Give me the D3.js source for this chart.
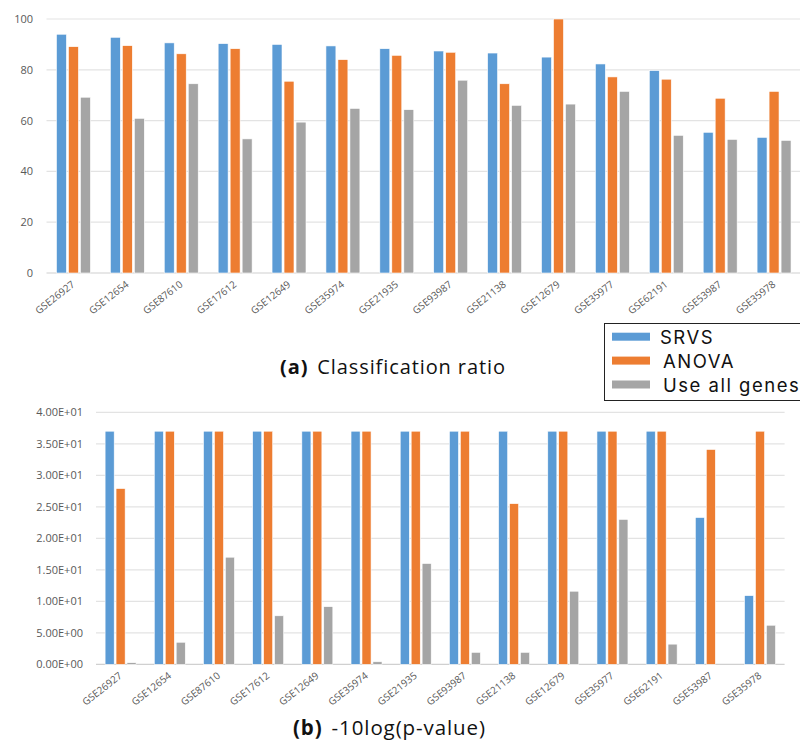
<!DOCTYPE html>
<html>
<head>
<meta charset="utf-8">
<script src="https://cdn.jsdelivr.net/npm/d3@7"></script>
<style>
  html, body { margin: 0; padding: 0; background: #fff; }
  svg { display: block; }
</style>
</head>
<body>
<svg id="chart" width="800" height="742"></svg>
<script>
// Datasets (GEO series) shown along both panels
const datasets = ["GSE26927", "GSE12654", "GSE87610", "GSE17612", "GSE12649", "GSE35974", "GSE21935",
                  "GSE93987", "GSE21138", "GSE12679", "GSE35977", "GSE62191", "GSE53987", "GSE35978"];
const methods = ["SRVS", "ANOVA", "Use all genes"];

// (a) Classification ratio (%)
const ratioSRVS  = [94.0, 92.8, 90.6, 90.3, 90.0, 89.4, 88.3, 87.4, 86.6, 85.0, 82.3, 79.7, 55.4, 53.4];
const ratioANOVA = [89.1, 89.5, 86.3, 88.3, 75.5, 84.0, 85.7, 86.9, 74.5, 100.0, 77.2, 76.3, 68.8, 71.5];
const ratioAll   = [69.2, 60.9, 74.5, 52.8, 59.4, 64.8, 64.3, 75.9, 66.0, 66.5, 71.5, 54.2, 52.6, 52.2];
const ratioTicks = [0, 20, 40, 60, 80, 100];

// (b) -10log(p-value)
const pvalSRVS  = [37, 37, 37, 37, 37, 37, 37, 37, 37, 37, 37, 37, 23.3, 10.9];
const pvalANOVA = [27.9, 37, 37, 37, 37, 37, 37, 37, 25.5, 37, 37, 37, 34.1, 37];
const pvalAll   = [0.25, 3.5, 17.0, 7.7, 9.15, 0.4, 16.0, 1.9, 1.9, 11.6, 23.0, 3.2, 0, 6.2];
const pvalTicks = [0, 5, 10, 15, 20, 25, 30, 35, 40];

const colors = ["#5b9bd5", "#ed7d31", "#a5a5a5"];
const font = "'Open Sans', 'Noto Sans', sans-serif";
const legendFont = "Inter, 'Open Sans', sans-serif";

const svg = d3.select("#chart");

// Excel-style scientific notation, e.g. 3.50E+01
function sci(v) {
  if (v === 0) return "0.00E+00";
  const e = Math.floor(Math.log10(Math.abs(v)));
  const m = v / Math.pow(10, e);
  const sign = e < 0 ? "-" : "+";
  return m.toFixed(2) + "E" + sign + String(Math.abs(e)).padStart(2, "0");
}

function drawPanel(opts) {
  const { series, ticks, yMax, x0, x1, yTop, yBottom, tickFmt, labelRight } = opts;
  const g = svg.append("g");

  const x = d3.scaleBand().domain(datasets).range([x0, x1])
    .paddingInner(0.37).paddingOuter(0.185);
  const xs = d3.scaleBand().domain(methods).range([0, x.bandwidth()]).paddingInner(0.17);
  const y = d3.scaleLinear().domain([0, yMax]).range([yBottom, yTop]);

  // horizontal gridlines
  g.append("g").selectAll("line").data(ticks).join("line")
    .attr("x1", x0).attr("x2", x1)
    .attr("y1", d => y(d)).attr("y2", d => y(d))
    .attr("stroke", d => d === 0 ? "#d0d0d0" : "#e3e3e3")
    .attr("stroke-width", 1.2);

  // y axis labels
  const yAxis = d3.axisLeft(y).tickValues(ticks).tickFormat(tickFmt).tickSize(0).tickPadding(0);
  const ya = g.append("g").attr("transform", `translate(${labelRight},0)`).call(yAxis);
  ya.select(".domain").remove();
  ya.selectAll("text").attr("fill", "#595959").attr("font-family", font).attr("font-size", 11);

  // bars
  const rows = datasets.map((d, i) => ({ d, vals: series.map(s => s[i]) }));
  const grp = g.append("g").selectAll("g").data(rows).join("g")
    .attr("transform", r => `translate(${x(r.d)},0)`);
  grp.selectAll("rect").data(r => r.vals.map((v, k) => ({ m: methods[k], v, k })))
    .join("rect")
    .attr("x", b => xs(b.m))
    .attr("width", xs.bandwidth())
    .attr("y", b => y(b.v))
    .attr("height", b => y(0) - y(b.v))
    .attr("fill", b => colors[b.k])
    .attr("stroke", "#fff").attr("stroke-width", 0.6)
    .style("display", b => b.v > 0 ? null : "none");

  // rotated category labels
  const xAxis = d3.axisBottom(x).tickSize(0).tickPadding(0);
  const xa = g.append("g").attr("transform", `translate(0,${yBottom + 10})`).call(xAxis);
  xa.select(".domain").remove();
  xa.selectAll("text")
    .attr("fill", "#595959").attr("font-family", font).attr("font-size", 10)
    .attr("text-anchor", "end").attr("dy", "0.35em")
    .attr("transform", "rotate(-38)");
}

drawPanel({
  series: [ratioSRVS, ratioANOVA, ratioAll], ticks: ratioTicks, yMax: 100,
  x0: 46.5, x1: 801, yTop: 19, yBottom: 273, tickFmt: d3.format("d"), labelRight: 33
});

drawPanel({
  series: [pvalSRVS, pvalANOVA, pvalAll], ticks: pvalTicks, yMax: 40,
  x0: 96, x1: 784.6, yTop: 412.3, yBottom: 664.3, tickFmt: sci, labelRight: 83
});

// captions
function caption(xPos, yPos, tag, text, size, spacing) {
  const t = svg.append("text").attr("x", xPos).attr("y", yPos)
    .attr("font-family", font).attr("font-size", size).attr("fill", "#111")
    .attr("letter-spacing", spacing);
  t.append("tspan").attr("font-weight", "bold").text(tag);
  t.append("tspan").attr("dx", 9).text(text);
}
caption(280, 374, "(a)", "Classification ratio", 20, 0.9);
caption(293, 735, "(b)", "-10log(p-value)", 20.5, 0.9);

// legend
const lg = svg.append("g");
lg.append("rect").attr("x", 604.5).attr("y", 323.5).attr("width", 210).attr("height", 77)
  .attr("fill", "#fff").attr("stroke", "#222").attr("stroke-width", 1);
const legendY = d3.scalePoint().domain(methods).range([336.7, 384.5]);
lg.selectAll("rect.sw").data(methods).join("rect").attr("class", "sw")
  .attr("x", 612).attr("y", d => legendY(d) - 4).attr("width", 38).attr("height", 8)
  .attr("fill", (d, i) => colors[i]);
lg.selectAll("text").data(methods).join("text")
  .attr("x", (d, i) => i === 0 ? 660 : 663).attr("y", d => legendY(d) + 7.1)
  .attr("font-family", legendFont).attr("font-size", 18.5).attr("fill", "#111")
  .attr("letter-spacing", 1.5)
  .text(d => d);
</script>
</body>
</html>
